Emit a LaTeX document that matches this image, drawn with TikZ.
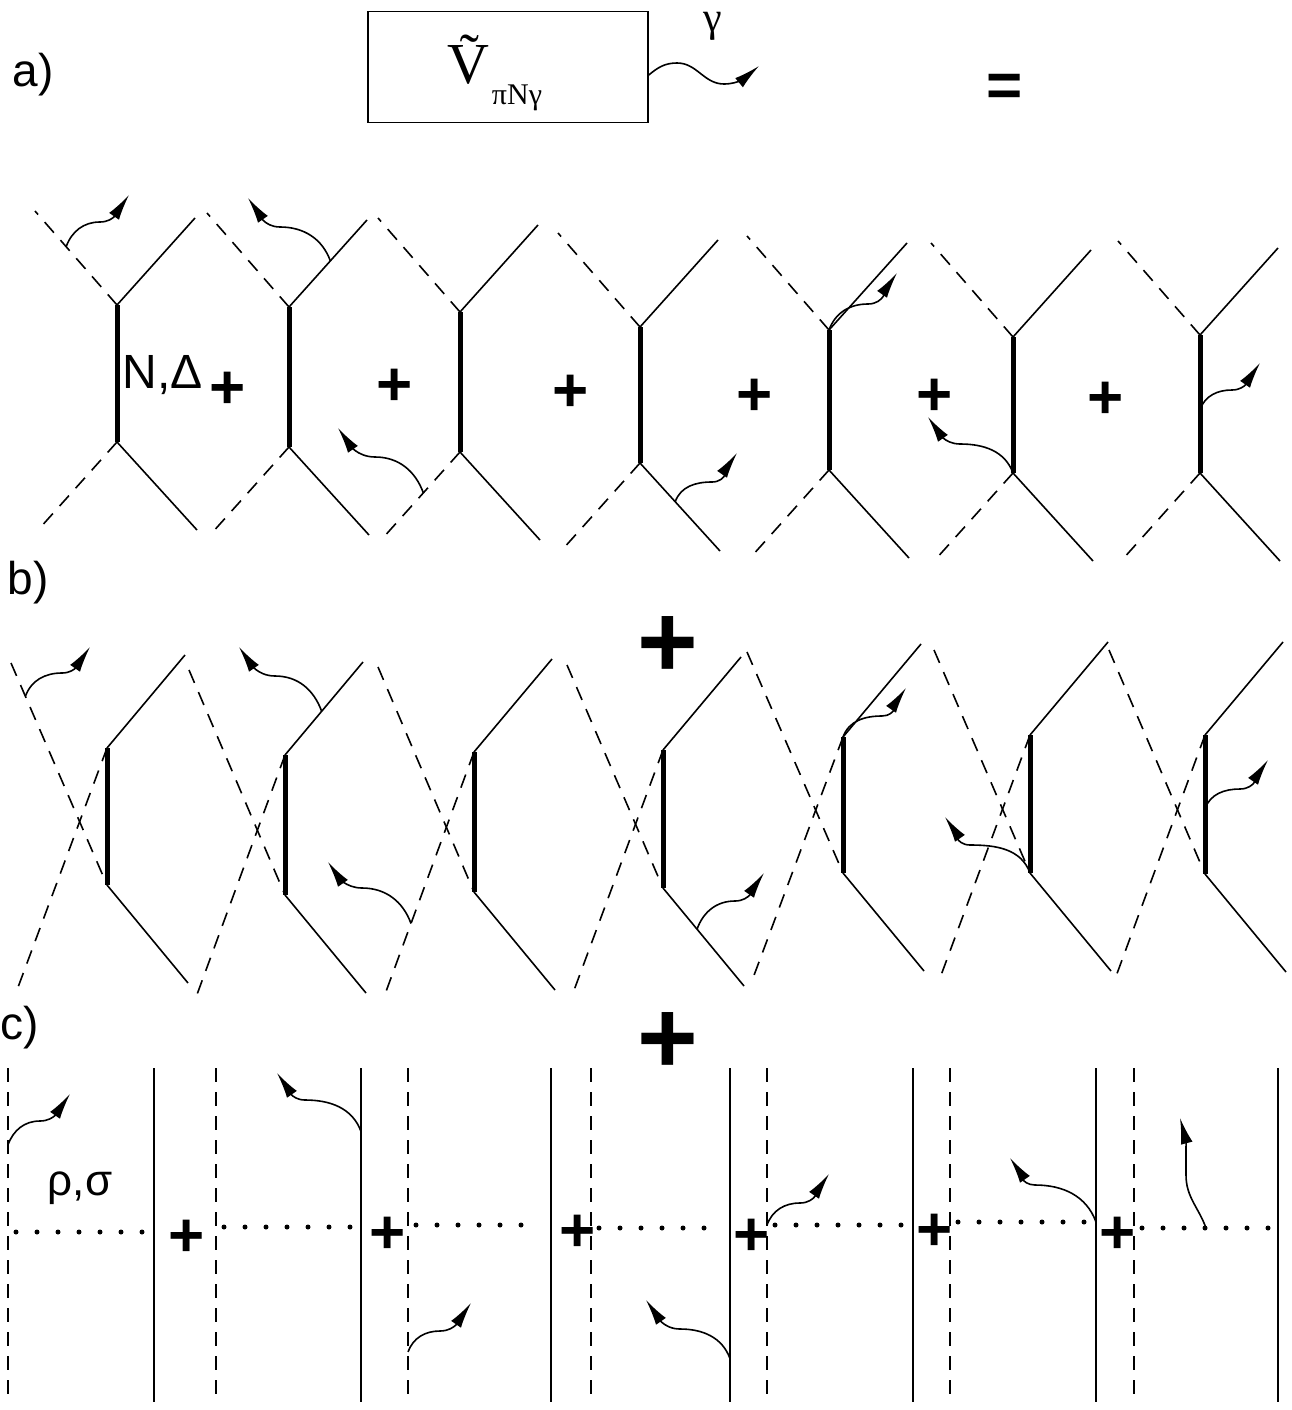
\documentclass[tikz,border=0pt]{standalone}
\usepackage{fontspec}
\setmainfont{Liberation Sans}
\newfontfamily\serifgreek{Liberation Serif}
\usetikzlibrary{arrows.meta,calc}

\begin{document}
\begin{tikzpicture}
    [
    x=1pt, y=-1pt,
    every node/.style={inner sep=0pt},
    pion/.style={line width=1.6pt, dash pattern=on 14pt off 10pt},
    nucleon/.style={line width=1.6pt},
    baryon/.style={line width=5pt},
    meson/.style={line width=5pt, line cap=round, dash pattern=on 0pt off 21pt},
    photon/.style={line width=1.6pt, -{Latex[length=26pt,width=12pt]}},
    plus/.style={font=\fontsize{62}{62}\selectfont\bfseries},
    bigplus/.style={font=\fontsize{104}{104}\selectfont\bfseries},
    tag/.style={font=\fontsize{46}{46}\selectfont}
    ]
    \useasboundingbox (0,0) rectangle (1291,1410);

    % a) the vertex box
    \node[tag] (taga) at (33,75) {a)};
    \node[draw, line width=1.6pt, minimum width=280pt, minimum height=111pt] (box) at (508,67) {};
    \node[font=\serifgreek\fontsize{58}{58}\selectfont] (V) at (468,60) {\~{V}};
    \node[font=\serifgreek\fontsize{30}{30}\selectfont] (sub) at (517,98) {πNγ};
    \node[font=\serifgreek\fontsize{42}{42}\selectfont] (gam) at (713,26) {γ};
    \coordinate (gtip) at (759,66);
    \draw[photon] ([yshift=-8pt]box.east) to[out=40,in=180] (677,63) to[out=0,in=180] (724,84) to[out=0,in=220] (gtip);
    \node[font=\fontsize{62}{62}\selectfont\bfseries] (eq) at (1005,90) {=};

    % first row: direct graphs
    \foreach \i/\x/\t/\b in {1/117/305/442, 2/289/307/447, 3/460/312/452, 4/640/327/463, 5/829/330/470, 6/1013/337/473, 7/1200/335/473}
    {
        \coordinate (at\i) at (\x,\t);
        \coordinate (ab\i) at (\x,\b);
        \coordinate (aul\i) at (\x-82,\t-94);
        \coordinate (aur\i) at (\x+78,\t-87);
        \coordinate (all\i) at (\x-78,\b+87);
        \coordinate (alr\i) at (\x+80,\b+88);
        \draw[baryon] (at\i) -- (ab\i);
        \draw[pion] (at\i) -- (aul\i);
        \draw[nucleon] (at\i) -- (aur\i);
        \draw[pion] (ab\i) -- (all\i);
        \draw[nucleon] (ab\i) -- (alr\i);
    }
    \node[font=\fontsize{48}{48}\selectfont] (nd) at (163,375) {N,Δ};
    \foreach \x/\y [count=\i] in {228/390, 395/387, 571/393, 755/397, 935/397, 1106/400}
        \node[plus] (pa\i) at (\x,\y) {+};

    \draw[photon] ($(at1)!0.62!(aul1)$) to[out=70,in=180] (100,222) to[out=0,in=235] (129,195);
    \draw[photon] ($(at2)!0.53!(aur2)$) to[out=110,in=0] (280,227) to[out=180,in=305] (248,198);
    \draw[photon] ($(ab3)!0.47!(all3)$) to[out=110,in=0] (375,457) to[out=180,in=305] (338,428);
    \draw[photon] ($(ab4)!0.44!(alr4)$) to[out=70,in=180] (712,482) to[out=0,in=235] (737,453);
    \draw[photon] (at5) to[out=70,in=180] (868,304) to[out=0,in=235] (897,273);
    \draw[photon] (ab6) to[out=110,in=0] (960,444) to[out=180,in=305] (928,417);
    \draw[photon] ($(at7)!0.54!(ab7)$) to[out=70,in=180] (1232,390) to[out=0,in=235] (1260,363);

    % b) crossed graphs
    \node[tag] (tagb) at (28,583) {b)};
    \node[bigplus] (pb) at (668,647) {+};
    \foreach \i/\x/\t/\b in {1/107/748/885, 2/285/755/895, 3/474/752/892, 4/663/750/888, 5/843/737/873, 6/1030/735/873, 7/1205/735/874}
    {
        \coordinate (bt\i) at (\x,\t);
        \coordinate (bb\i) at (\x,\b);
        \coordinate (bul\i) at (\x-96,\t-85);
        \coordinate (bur\i) at (\x+78,\t-93);
        \coordinate (bll\i) at (\x-90,\b+105);
        \coordinate (blr\i) at (\x+81,\b+98);
        \draw[baryon] (bt\i) -- (bb\i);
        \draw[nucleon] (bt\i) -- (bur\i);
        \draw[nucleon] (bb\i) -- (blr\i);
        \draw[pion] (bul\i) -- (bb\i);
        \draw[pion] (bt\i) -- (bll\i);
    }
    \draw[photon] ($(bul1)!0.15!(bb1)$) to[out=70,in=180] (62,673) to[out=0,in=235] (90,647);
    \draw[photon] ($(bt2)!0.47!(bur2)$) to[out=110,in=0] (275,676) to[out=180,in=305] (239,647);
    \draw[photon] ($(bt3)!0.7!(bll3)$) to[out=110,in=0] (362,888) to[out=180,in=305] (328,862);
    \draw[photon] ($(bb4)!0.42!(blr4)$) to[out=70,in=180] (735,901) to[out=0,in=235] (764,873);
    \draw[photon] (bt5) to[out=70,in=180] (882,716) to[out=0,in=235] (906,688);
    \draw[photon] (bb6) to[out=110,in=0] (970,845) to[out=180,in=305] (945,817);
    \draw[photon] ($(bt7)!0.53!(bb7)$) to[out=70,in=180] (1240,789) to[out=0,in=235] (1268,760);

    % c) meson exchange
    \node[tag] (tagc) at (20,1028) {c)};
    \node[bigplus] (pc) at (668,1043) {+};
    \foreach \i/\d/\s/\y in {1/8/154/1232, 2/216/361/1227, 3/408/551/1225, 4/591/730/1228, 5/767/913/1225, 6/950/1096/1222, 7/1134/1278/1228}
    {
        \coordinate (cdt\i) at (\d,1068);
        \coordinate (cdb\i) at (\d,1402);
        \coordinate (cst\i) at (\s,1068);
        \coordinate (csb\i) at (\s,1402);
        \coordinate (cm\i) at (\d,\y);
        \coordinate (cn\i) at (\s,\y);
        \draw[pion] (cdt\i) -- (cdb\i);
        \draw[nucleon] (cst\i) -- (csb\i);
        \draw[meson, shorten <=8pt, shorten >=10pt] (cm\i) -- (cn\i);
    }
    \node[font=\fontsize{44}{44}\selectfont] (rs) at (80,1188) {ρ,σ};
    \foreach \x/\y [count=\i] in {187/1238, 388/1235, 578/1233, 752/1237, 935/1232, 1118/1235}
        \node[plus] (pc\i) at (\x,\y) {+};

    \draw[photon] ($(cdt1)!0.23!(cdb1)$) to[out=70,in=180] (40,1121) to[out=0,in=235] (70,1094);
    \draw[photon] ($(cst2)!0.19!(csb2)$) to[out=110,in=0] (305,1100) to[out=180,in=305] (277,1073);
    \draw[photon] ($(cdt3)!0.85!(cdb3)$) to[out=70,in=180] (440,1331) to[out=0,in=235] (471,1303);
    \draw[photon] ($(cst4)!0.87!(csb4)$) to[out=110,in=0] (680,1329) to[out=180,in=305] (646,1300);
    \draw[photon] (cm5) to[out=70,in=180] (800,1203) to[out=0,in=235] (829,1174);
    \draw[photon] (cn6) to[out=110,in=0] (1035,1185) to[out=180,in=305] (1010,1158);
    \draw[photon] ($(cm7)!0.5!(cn7)$) to[out=110,in=-90] (1186,1175) to[out=90,in=-75] (1180,1118);
\end{tikzpicture}
\end{document}
